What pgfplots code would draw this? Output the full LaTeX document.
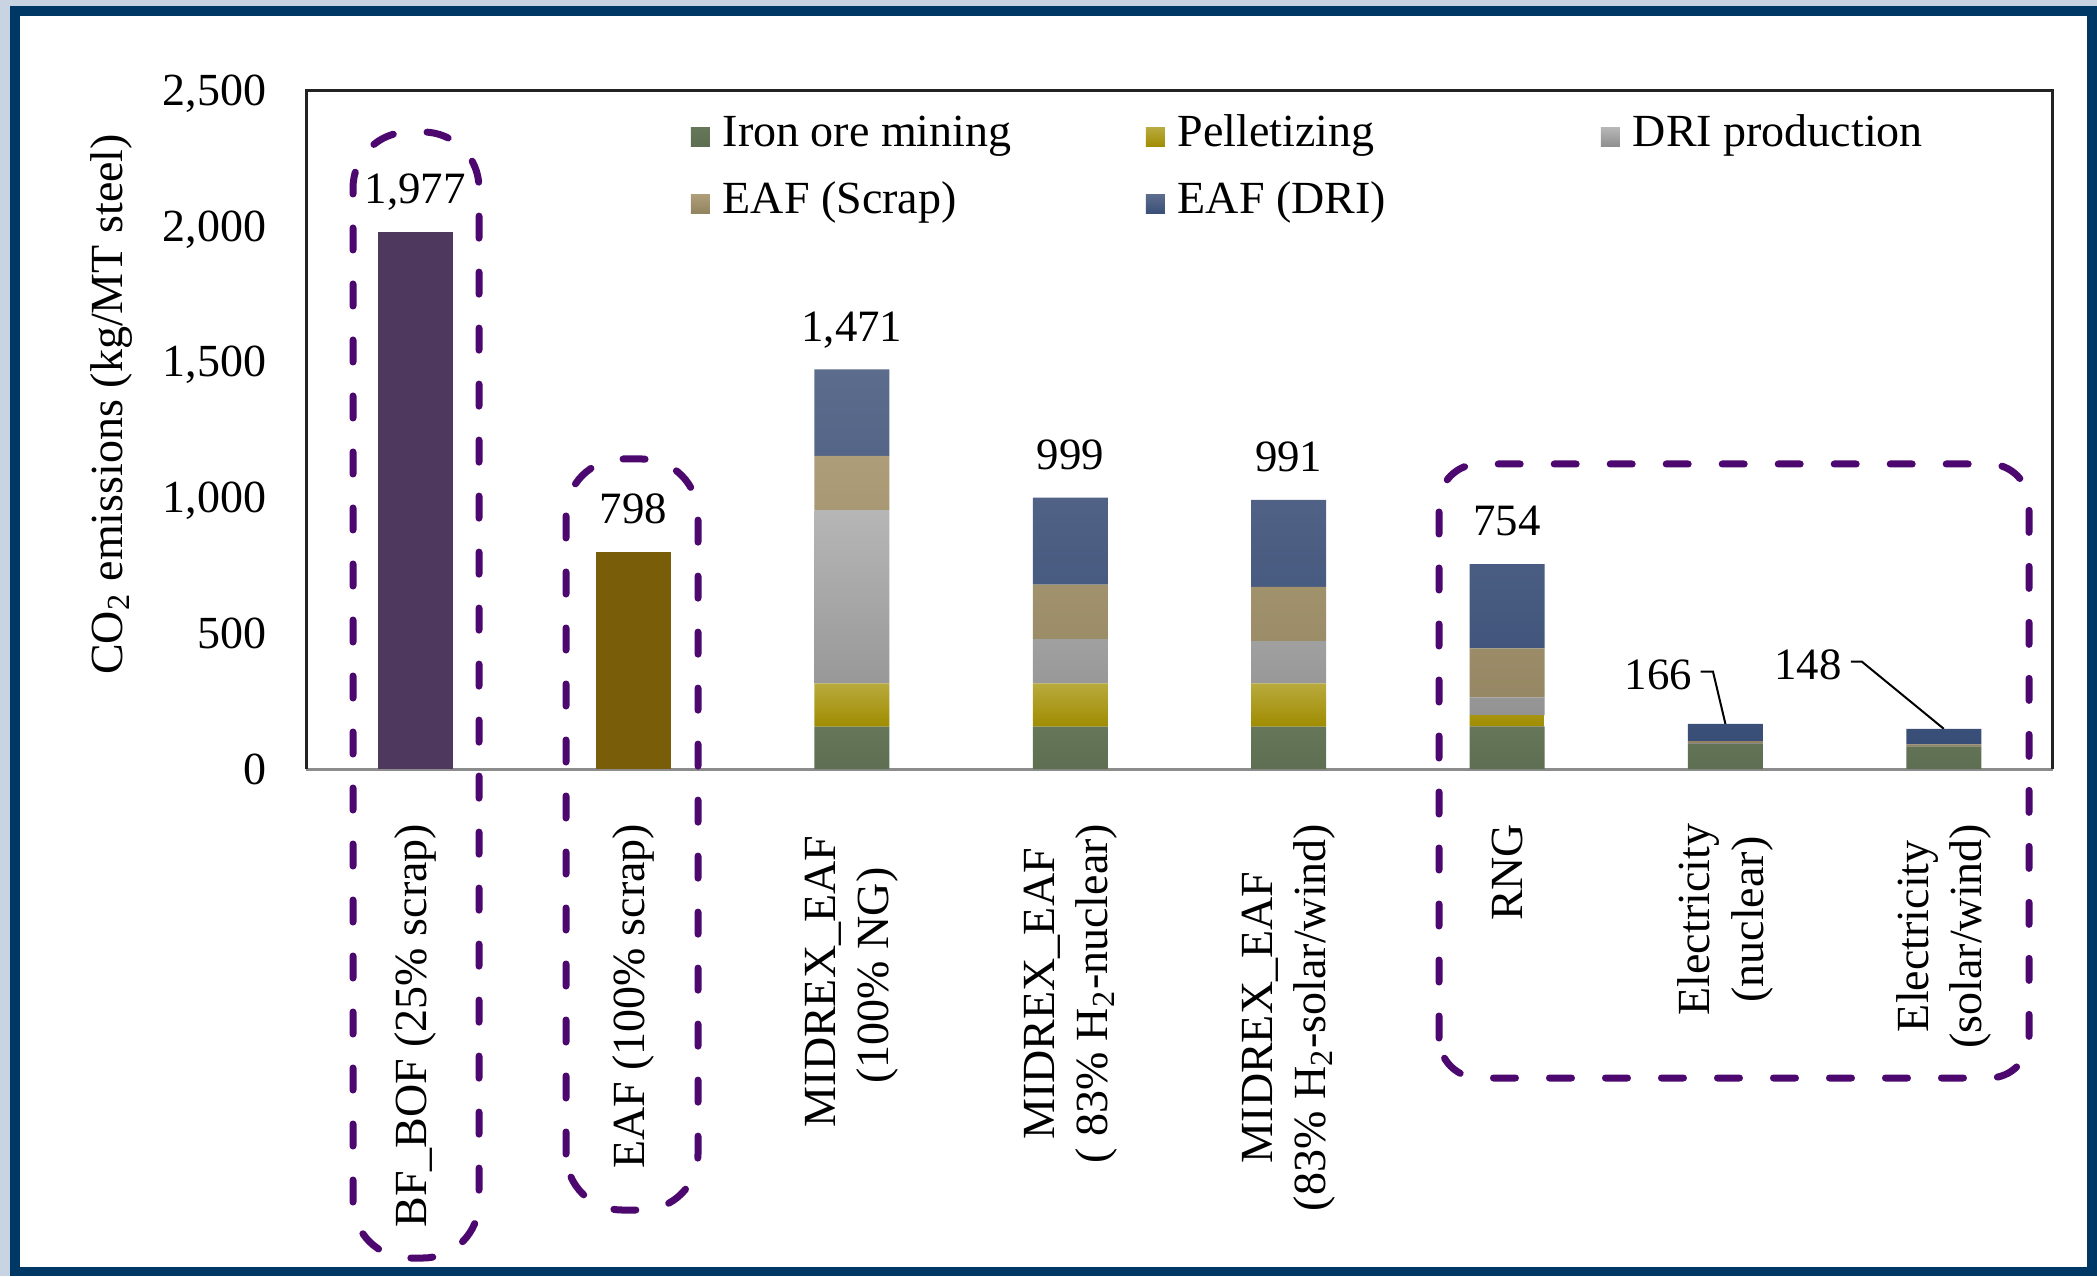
\documentclass[border=0pt]{standalone}
\usepackage{fontspec}
\setmainfont{Liberation Serif}
\usepackage{pgfplots}
\usepackage{pgfplotstable}
\pgfplotsset{compat=1.18}

% frame and annotation colours
\definecolor{framenavy}{RGB}{0,56,101}
\definecolor{framelight}{RGB}{200,212,226}
\definecolor{groupviolet}{RGB}{76,8,110}
\definecolor{zeroline}{RGB}{140,140,140}
\definecolor{boxline}{RGB}{35,35,35}
% bar colours
\definecolor{bfbof}{RGB}{78,56,94}
\definecolor{eafonly}{RGB}{122,93,8}
\definecolor{miningTop}{RGB}{102,118,88}
\definecolor{miningBot}{RGB}{94,110,82}
\definecolor{pelletTop}{RGB}{184,170,62}
\definecolor{pelletBot}{RGB}{160,140,0}
\definecolor{driTop}{RGB}{182,182,182}
\definecolor{driBot}{RGB}{142,142,142}
\definecolor{scrapTop}{RGB}{173,157,120}
\definecolor{scrapBot}{RGB}{146,131,96}
\definecolor{eafdriTop}{RGB}{92,108,140}
\definecolor{eafdriBot}{RGB}{57,78,119}

\newcommand\tickfont{\fontsize{11.5}{13.8}\selectfont}
\newcommand\catfont{\fontsize{11.5}{13.3}\selectfont}
\newcommand\valfont{\fontsize{11.2}{13.4}\selectfont}
\newcommand\legfont{\fontsize{11.5}{13.8}\selectfont}

% CO2 emissions per stage, kg per metric ton of steel
\pgfplotstableread{
x  mining pellet dri  scrap eafdri bfbof eaf
0  0      0      0    0     0      1977  0
1  0      0      0    0     0      0     798
2  156    159    638  200   318    0     0
3  156    159    163  201   320    0     0
4  156    159    156  200   320    0     0
5  157    41     66   180   310    0     0
6  93     0      2    8     63     0     0
7  83     0      0    8     57     0     0
}\emissions

\pgfplotsset{
  sqlegend/.style={legend image code/.code={\fill[##1] (0pt,-2.75pt) rectangle (4.75pt,2pt);}},
}

\begin{document}
\begin{tikzpicture}
% page frame
\fill[framelight] (0pt,0pt) rectangle (524.25pt,319pt);
\fill[framenavy] (2.5pt,0pt) rectangle (524.25pt,317.5pt);
\fill[white] (5pt,2.25pt) rectangle (521.75pt,315pt);

\begin{axis}[
  at={(76.5pt,126.75pt)}, anchor=south west,
  scale only axis, width=436.75pt, height=169.75pt,
  ybar stacked, bar width=0.343,
  xmin=-0.5, xmax=7.5, ymin=0, ymax=2500,
  clip=false,
  axis line style={draw=none},
  major tick length=0pt,
  xtick={0,...,7},
  xticklabels={
    {BF\_BOF (25\% scrap)},
    {EAF (100\% scrap)},
    {MIDREX\_EAF\rule{3pt}{0pt}\\(100\% NG)},
    {MIDREX\_EAF\\( 83\% H\textsubscript{2}-nuclear)},
    {MIDREX\_EAF\\(83\% H\textsubscript{2}-solar/wind)},
    {RNG},
    {Electricity\\(nuclear)},
    {Electricity\\(solar/wind)}},
  xticklabel style={font=\catfont, yshift=-13.5pt, rotate=90, anchor=east, align=center, inner sep=0pt},
  ytick={0,500,...,2500},
  scaled y ticks=false,
  yticklabel style={font=\tickfont, anchor=east, inner sep=0pt, xshift=-9.75pt, text depth=0pt,
    /pgf/number format/.cd, 1000 sep={,}, assume math mode=true},
  ylabel={CO\textsubscript{2} emissions (kg/MT steel)},
  ylabel style={font=\tickfont, at={(rel axis cs:-0.1116,0.537)}, anchor=center},
  legend columns=3,
  legend cell align=left,
  legend style={at={(0.2198,0.9652)}, anchor=north west, draw=none, fill=none,
    inner sep=0pt, row sep=6.05pt,
    nodes={inner sep=0pt, text height=8.1pt, text depth=2.6pt, font=\legfont},
    /tikz/every odd column/.append style={column sep=3.25pt}},
]
\addplot[draw=none, sqlegend, top color=miningTop, bottom color=miningBot]
  table[x=x, y=mining]{\emissions};
\addlegendentry{\makebox[105.75pt][l]{Iron ore mining}}
\addplot[draw=none, sqlegend, top color=pelletTop, bottom color=pelletBot]
  table[x=x, y=pellet]{\emissions};
\addlegendentry{\makebox[105.75pt][l]{Pelletizing}}
\addplot[draw=none, sqlegend, top color=driTop, bottom color=driBot]
  table[x=x, y=dri]{\emissions};
\addlegendentry{\makebox[105.75pt][l]{DRI production}}
\addplot[draw=none, sqlegend, top color=scrapTop, bottom color=scrapBot]
  table[x=x, y=scrap]{\emissions};
\addlegendentry{\makebox[105.75pt][l]{EAF (Scrap)}}
\addplot[draw=none, sqlegend, top color=eafdriTop, bottom color=eafdriBot]
  table[x=x, y=eafdri]{\emissions};
\addlegendentry{\makebox[105.75pt][l]{EAF (DRI)}}
\addplot[draw=none, fill=bfbof] table[x=x, y=bfbof]{\emissions};
\addplot[draw=none, fill=eafonly] table[x=x, y=eaf]{\emissions};

% axis frame: dark box on three sides, grey baseline
\draw[boxline, line width=0.75pt] (rel axis cs:0,0) -- (rel axis cs:0,1) -- (rel axis cs:1,1) -- (rel axis cs:1,0);
\draw[zeroline, line width=0.75pt] (rel axis cs:0,0) -- (rel axis cs:1,0);

% totals above the bars
\tikzset{vallab/.style={font=\valfont, anchor=base, yshift=7.1pt}}
\node[vallab] at (axis cs:0,1977) {1,977};
\node[vallab] at (axis cs:1,798) {798};
\node[vallab] at (axis cs:2,1471) {1,471};
\node[vallab] at (axis cs:3,999) {999};
\node[vallab] at (axis cs:4,991) {991};
\node[vallab] at (axis cs:5,754) {754};
\draw[black, line width=0.5pt] (axis cs:6,166) -- ++(-3.1pt,13.05pt) -- ++(-3.1pt,0pt);
\node[font=\valfont, anchor=base, xshift=-16.8pt, yshift=8.6pt] at (axis cs:6,166) {166};
\draw[black, line width=0.5pt] (axis cs:7,148) -- ++(-20.5pt,16.8pt) -- ++(-2.75pt,0pt);
\node[font=\valfont, anchor=base, xshift=-34pt, yshift=12.3pt] at (axis cs:7,148) {148};
\end{axis}

% dashed groupings
\begin{scope}[groupviolet, line width=1.75pt, line cap=round, dash pattern=on 5.5pt off 8.5pt]
\draw[rounded corners=14pt] (88.25pt,4.5pt) rectangle (119.75pt,286pt);
\draw[rounded corners=14pt] (141.5pt,16.5pt) rectangle (174.5pt,204.25pt);
\draw[rounded corners=10pt] (359.75pt,49.5pt) rectangle (507.25pt,203pt);
\end{scope}

\pgfresetboundingbox
\useasboundingbox (0pt,0pt) rectangle (524.25pt,319pt);
\end{tikzpicture}
\end{document}
